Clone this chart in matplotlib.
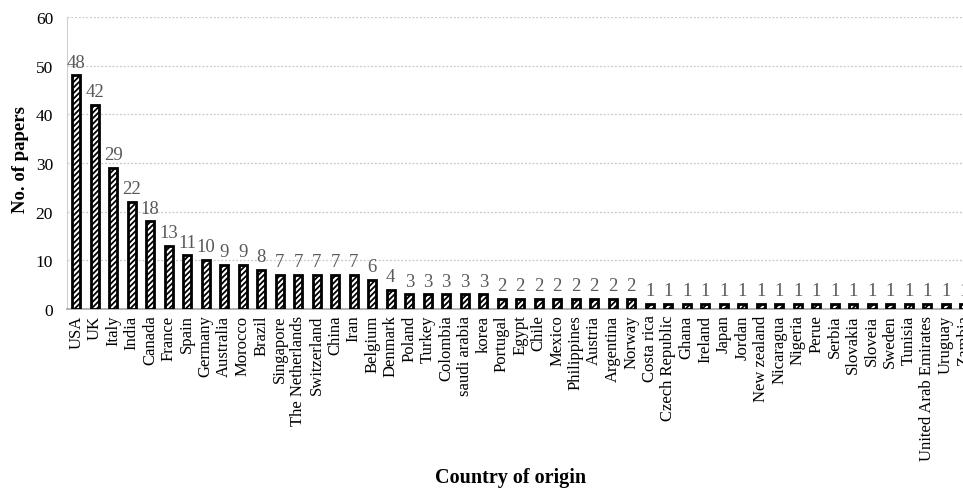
import matplotlib
matplotlib.use("Agg")
import matplotlib.pyplot as plt

# papers per country of origin
countries = [
    "USA", "UK", "Italy", "India", "Canada", "France", "Spain", "Germany",
    "Australia", "Morocco", "Brazil", "Singapore", "The Netherlands",
    "Switzerland", "China", "Iran", "Belgium", "Denmark", "Poland", "Turkey",
    "Colombia", "saudi arabia", "korea", "Portugal", "Egypt", "Chile",
    "Mexico", "Philippines", "Austria", "Argentina", "Norway", "Costa rica",
    "Czech Republic", "Ghana", "Ireland", "Japan", "Jordan", "New zealand",
    "Nicaragua", "Nigeria", "Perue", "Serbia", "Slovakia", "Sloveia",
    "Sweden", "Tunisia", "United Arab Emirates", "Uruguay", "Zambia",
]
papers = [
    48, 42, 29, 22, 18, 13, 11, 10, 9, 9, 8, 7, 7, 7, 7, 7, 6, 4,
    3, 3, 3, 3, 3, 2, 2, 2, 2, 2, 2, 2, 2,
    1, 1, 1, 1, 1, 1, 1, 1, 1, 1, 1, 1, 1, 1, 1, 1, 1, 1,
]
y_ticks = [0, 10, 20, 30, 40, 50, 60]

plt.rcParams["font.family"] = ["Liberation Serif", "DejaVu Serif"]
plt.rcParams["hatch.linewidth"] = 1.3
plt.rcParams["hatch.color"] = "black"

W, H = 963, 489
fig = plt.figure(figsize=(W / 100, H / 100), dpi=100)
slot = 18.5
n = len(countries)
# plot area runs a little past the right edge, so the last column is clipped
ax = fig.add_axes([67 / W, (H - 310) / H, n * slot / W, 292 / H])

x = list(range(n))
ax.bar(x, papers, width=0.42, color="white", edgecolor="black",
       linewidth=2.0, hatch="//////", zorder=3)
for xi, v in zip(x, papers):
    ax.text(xi, v + 1.0, str(v), ha="center", va="bottom",
            fontsize=13.5, color="#595959")

ax.set_xlim(-0.5, n - 0.5)
ax.set_ylim(0, 60)
ax.set_yticks(y_ticks)
ax.tick_params(axis="y", length=0, labelsize=12.5, pad=10)
ax.set_xticks(x)
ax.set_xticklabels(countries, rotation=90, fontsize=12)
ax.tick_params(axis="x", length=0, pad=4)
ax.yaxis.grid(True, linestyle=(0, (1.5, 1.5)), color="#c8c8c8", linewidth=0.9,
              zorder=0)

for side in ("top", "right"):
    ax.spines[side].set_visible(False)
ax.spines["left"].set_color("#d0d0d0")
ax.spines["bottom"].set_color("#a6a6a6")
ax.spines["bottom"].set_linewidth(1.2)

fig.text(21 / W, 1 - 160 / H, "No. of papers", rotation=90, ha="center",
         va="center", fontsize=13.5, fontweight="bold")
fig.text(511 / W, 1 - 478 / H, "Country of origin", ha="center",
         va="center", fontsize=14.5, fontweight="bold")

fig.savefig("out.png", dpi=100)
